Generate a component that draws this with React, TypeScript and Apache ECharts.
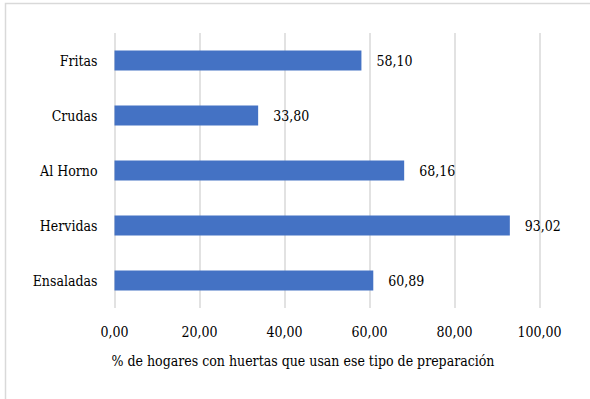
import React, { useEffect, useRef } from "react";
import * as echarts from "echarts";

// Preparation types, listed bottom to top as the category axis draws them
const categories = ["Ensaladas", "Hervidas", "Al Horno", "Crudas", "Fritas"];
const shares = [60.89, 93.02, 68.16, 33.8, 58.1];
const axisTitle = "% de hogares con huertas que usan ese tipo de preparación";

const fmt = (v: number) => v.toFixed(2).replace(".", ",");
const serif = "DejaVu Serif Condensed, DejaVu Serif";
const fs = 14;

export default function App() {
  const ref = useRef<HTMLDivElement>(null);

  useEffect(() => {
    if (!ref.current) return;
    const chart = echarts.init(ref.current, null, { renderer: "svg" });
    chart.setOption({
      animation: false,
      backgroundColor: "#ffffff",
      textStyle: { fontFamily: serif },
      grid: { left: 114.5, right: 50.5, top: 33, bottom: 91, containLabel: false },
      xAxis: {
        type: "value",
        min: 0,
        max: 100,
        interval: 20,
        axisLine: { show: false },
        axisTick: { show: false },
        splitLine: { show: true, lineStyle: { color: "#d9d9d9", width: 1.5 } },
        axisLabel: {
          formatter: (v: number) => fmt(v),
          color: "#000",
          fontSize: fs,
          fontFamily: serif,
          margin: 17,
        },
        name: axisTitle,
        nameLocation: "middle",
        nameGap: 46,
        nameTextStyle: {
          color: "#000",
          fontSize: fs,
          fontFamily: serif,
          padding: [0, 48, 0, 0],
        },
      },
      yAxis: {
        type: "category",
        data: categories,
        axisLine: { show: false },
        axisTick: { show: false },
        splitLine: { show: false },
        axisLabel: { color: "#000", fontSize: fs, fontFamily: serif, margin: 17 },
      },
      series: [
        {
          type: "bar",
          data: shares,
          barWidth: 20,
          itemStyle: { color: "#4472c4" },
          label: {
            show: true,
            position: "right",
            distance: 15,
            color: "#000",
            fontSize: fs,
            fontFamily: serif,
            formatter: (p: any) => fmt(p.value),
          },
        },
      ],
      graphic: [
        {
          type: "rect",
          shape: { x: 5.5, y: 3.5, width: 700, height: 500 },
          style: { fill: "none", stroke: "#d9d9d9", lineWidth: 1.5 },
          silent: true,
        },
      ],
    });
    return () => chart.dispose();
  }, []);

  return (
    <div
      ref={ref}
      style={{ position: "fixed", left: 0, top: 0, width: 590, height: 399 }}
    />
  );
}
